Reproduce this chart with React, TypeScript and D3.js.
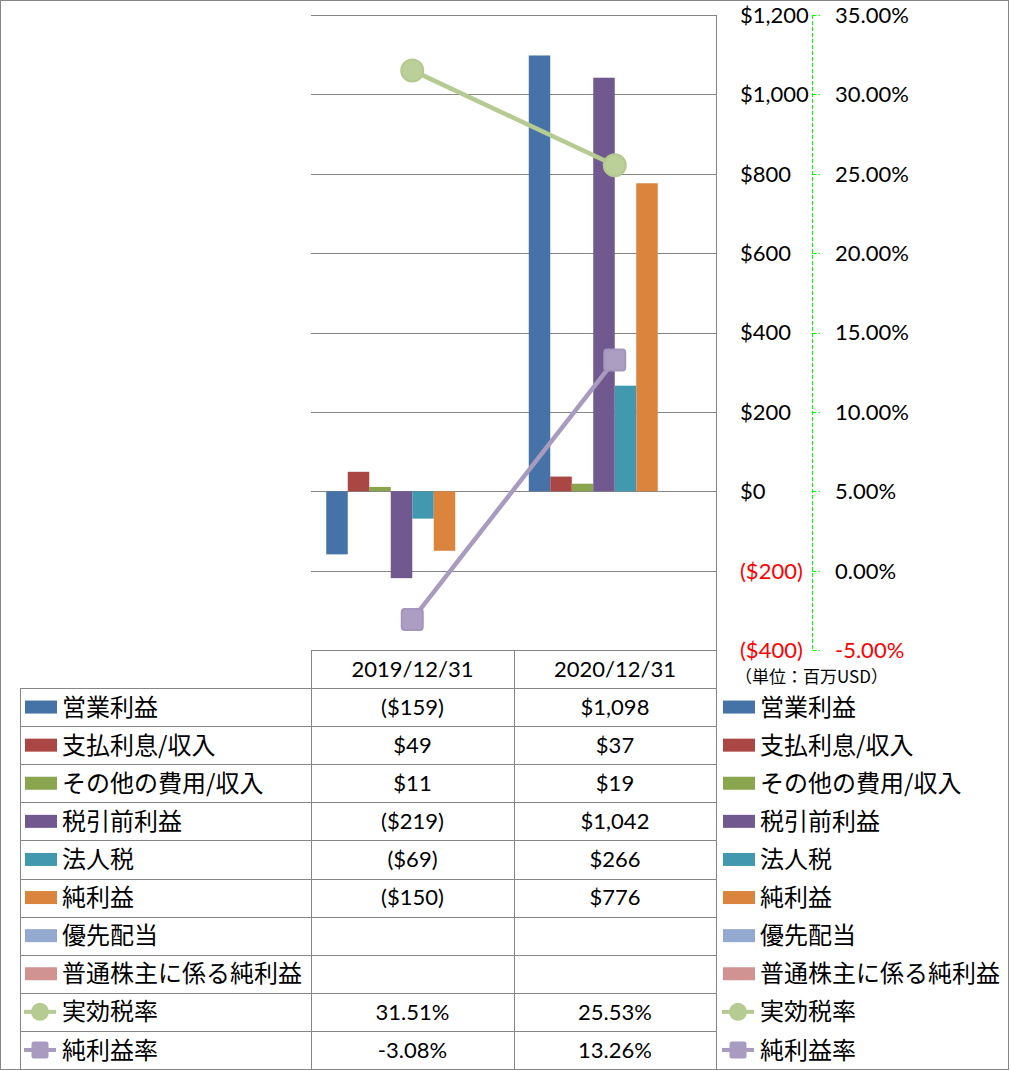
import React from "react";
import * as d3 from "d3";

const categories = ["2019/12/31", "2020/12/31"];
const barNames = ["営業利益", "支払利息/収入", "その他の費用/収入", "税引前利益", "法人税", "純利益", "優先配当", "普通株主に係る純利益"];
const barColors = ["#4572A7", "#AA4643", "#89A54E", "#71588F", "#4198AF", "#DB843D", "#93A9CF", "#D19392"];
const operatingIncome = [-159, 1098];
const interestIncome = [49, 37];
const otherExpense = [11, 19];
const preTaxIncome = [-219, 1042];
const incomeTax = [-69, 266];
const netIncome = [-150, 776];
const preferredDividend: (number | null)[] = [null, null];
const commonNetIncome: (number | null)[] = [null, null];
const lineNames = ["実効税率", "純利益率"];
const lineColors = ["#B5CB92", "#A89BBF"];
const effectiveTaxRate = [31.51, 25.53];
const netMargin = [-3.08, 13.26];
const leftTicks = [-400, -200, 0, 200, 400, 600, 800, 1000, 1200];
const rightTicks = [-5, 0, 5, 10, 15, 20, 25, 30, 35];
const unitLabel = "（単位：百万USD）";

const barValues: (number | null)[][] = [operatingIncome, interestIncome, otherExpense, preTaxIncome, incomeTax, netIncome, preferredDividend, commonNetIncome];
const lineValues = [effectiveTaxRate, netMargin];

const LAT = "Lato, 'Open Sans', sans-serif";
const JP = "'Noto Sans CJK JP', sans-serif";
const GRID = "#868686";

const fmtMoney = (v: number) => (v < 0 ? `($${d3.format(",")(-v)})` : `$${d3.format(",")(v)}`);
const fmtPct = (v: number) => `${v.toFixed(2)}%`;

export default function App() {
  const W = 1011, H = 1071;
  const px0 = 311, px1 = 716, py0 = 15, py1 = 650;
  const x = d3.scaleBand<string>().domain(categories).range([px0, px1]).padding(0);
  const xs = d3.scaleBand<number>().domain(d3.range(barNames.length)).range([0, x.bandwidth()]).paddingInner(0).paddingOuter(0.71);
  const yL = d3.scaleLinear().domain([-400, 1200]).range([py1, py0]);
  const yR = d3.scaleLinear().domain([-5, 35]).range([py1, py0]);

  const tableLeft = 20, colRight = 716;
  const headerTop = 650, rowTop = 688, rowH = 38.1;
  const cols = [px0, 514, colRight];
  const nRows = barNames.length + lineNames.length;
  const rowY = (i: number) => rowTop + rowH * (i + 0.5);

  const legendLabels = [...barNames, ...lineNames];

  const swatch = (i: number, sx: number, cy: number) => {
    if (i < barNames.length) {
      return <rect x={sx} y={cy - 6.5} width={32} height={13} fill={barColors[i]} />;
    }
    const li = i - barNames.length;
    const c = lineColors[li];
    return (
      <g>
        <line x1={sx - 1} x2={sx + 31} y1={cy} y2={cy} stroke={c} strokeWidth={4} />
        {li === 0 ? (
          <circle cx={sx + 15} cy={cy} r={9} fill={c} />
        ) : (
          <rect x={sx + 6.5} y={cy - 8.5} width={17} height={17} rx={2.5} fill={c} />
        )}
      </g>
    );
  };

  const line = d3.line<number>().x((_, i) => (x(categories[i]) as number) + x.bandwidth() / 2).y((d) => yR(d));

  return (
    <svg width={W} height={H} style={{ position: "absolute", left: 0, top: 0, background: "#fff" }}>
      <rect x={0.5} y={0.5} width={1008} height={1069} fill="#fff" stroke={GRID} strokeWidth={1} />
      {/* gridlines */}
      {leftTicks.map((t) => (
        <line key={t} x1={px0} x2={px1} y1={Math.round(yL(t)) + 0.5} y2={Math.round(yL(t)) + 0.5} stroke={GRID} strokeWidth={1} />
      ))}
      {/* bars */}
      {categories.map((c, ci) =>
        barValues.map((vals, si) => {
          const v = vals[ci];
          if (v == null) return null;
          const bx = (x(c) as number) + (xs(si) as number);
          const y0 = yL(0), y1 = yL(v);
          return <rect key={`${ci}-${si}`} x={bx} y={Math.min(y0, y1)} width={xs.bandwidth()} height={Math.abs(y1 - y0)} fill={barColors[si]} />;
        })
      )}
      {/* lines */}
      {lineValues.map((vals, li) => (
        <path key={li} d={line(vals) as string} fill="none" stroke={lineColors[li]} strokeWidth={4.5} />
      ))}
      {lineValues[0].map((v, i) => (
        <circle key={`c${i}`} cx={(x(categories[i]) as number) + x.bandwidth() / 2} cy={yR(v)} r={11} fill="#BBCF98" stroke="#B3C98F" strokeWidth={2} />
      ))}
      {lineValues[1].map((v, i) => (
        <rect key={`s${i}`} x={(x(categories[i]) as number) + x.bandwidth() / 2 - 10.5} y={yR(v) - 10.5} width={21} height={21} rx={3} fill="#AC9EC3" stroke="#A595BB" strokeWidth={2} />
      ))}
      {/* right plot border */}
      <line x1={px1 + 0.5} x2={px1 + 0.5} y1={py0} y2={1070} stroke={GRID} />
      {/* left axis labels */}
      {leftTicks.map((t) => (
        <text key={`l${t}`} x={740} y={yL(t)} dy="0.36em" fontFamily={LAT} fontSize={22} fill={t < 0 ? "#FF0000" : "#000"}>
          {fmtMoney(t)}
        </text>
      ))}
      {/* right axis */}
      <line x1={812.5} x2={812.5} y1={py0} y2={py1} stroke="#00FF00" strokeWidth={1} strokeDasharray="4,2" />
      {rightTicks.map((t) => (
        <line key={`rt${t}`} x1={812.5} x2={820} y1={Math.round(yR(t)) + 0.5} y2={Math.round(yR(t)) + 0.5} stroke="#00FF00" strokeWidth={1} strokeDasharray="4,2" />
      ))}
      {rightTicks.map((t) => (
        <text key={`r${t}`} x={835} y={yR(t)} dy="0.36em" fontFamily={LAT} fontSize={22} fill={t < 0 ? "#FF0000" : "#000"}>
          {fmtPct(t)}
        </text>
      ))}
      <text x={735} y={677} dy="0.36em" fontFamily={JP} fontSize={17} fill="#000">
        {unitLabel}
      </text>
      {/* table */}
      <line x1={px0} x2={colRight} y1={headerTop + 0.5} y2={headerTop + 0.5} stroke={GRID} />
      {d3.range(nRows + 1).map((i) => {
        const yy = Math.round(rowTop + rowH * i) + 0.5;
        return <line key={`h${i}`} x1={tableLeft} x2={colRight} y1={yy} y2={yy} stroke={GRID} />;
      })}
      <line x1={tableLeft + 0.5} x2={tableLeft + 0.5} y1={rowTop} y2={rowTop + rowH * nRows} stroke={GRID} />
      {cols.slice(0, 2).map((cx) => (
        <line key={`v${cx}`} x1={cx + 0.5} x2={cx + 0.5} y1={headerTop} y2={rowTop + rowH * nRows} stroke={GRID} />
      ))}
      {categories.map((c, ci) => (
        <text key={`hd${ci}`} x={(cols[ci] + cols[ci + 1]) / 2} y={669} dy="0.36em" textAnchor="middle" fontFamily={LAT} fontSize={22} fill="#000">
          {c}
        </text>
      ))}
      {legendLabels.map((name, i) => (
        <g key={`row${i}`}>
          {swatch(i, 25, rowY(i))}
          <text x={62} y={rowY(i)} dy="0.36em" fontFamily={JP} fontSize={24} fill="#000">
            {name}
          </text>
          {swatch(i, 723, rowY(i))}
          <text x={760} y={rowY(i)} dy="0.36em" fontFamily={JP} fontSize={24} fill="#000">
            {name}
          </text>
          {categories.map((c, ci) => {
            let txt = "";
            if (i < barNames.length) {
              const v = barValues[i][ci];
              txt = v == null ? "" : fmtMoney(v);
            } else {
              txt = fmtPct(lineValues[i - barNames.length][ci]);
            }
            return (
              <text key={`cell${ci}`} x={(cols[ci] + cols[ci + 1]) / 2} y={rowY(i)} dy="0.36em" textAnchor="middle" fontFamily={LAT} fontSize={22} fill="#000">
                {txt}
              </text>
            );
          })}
        </g>
      ))}
    </svg>
  );
}
